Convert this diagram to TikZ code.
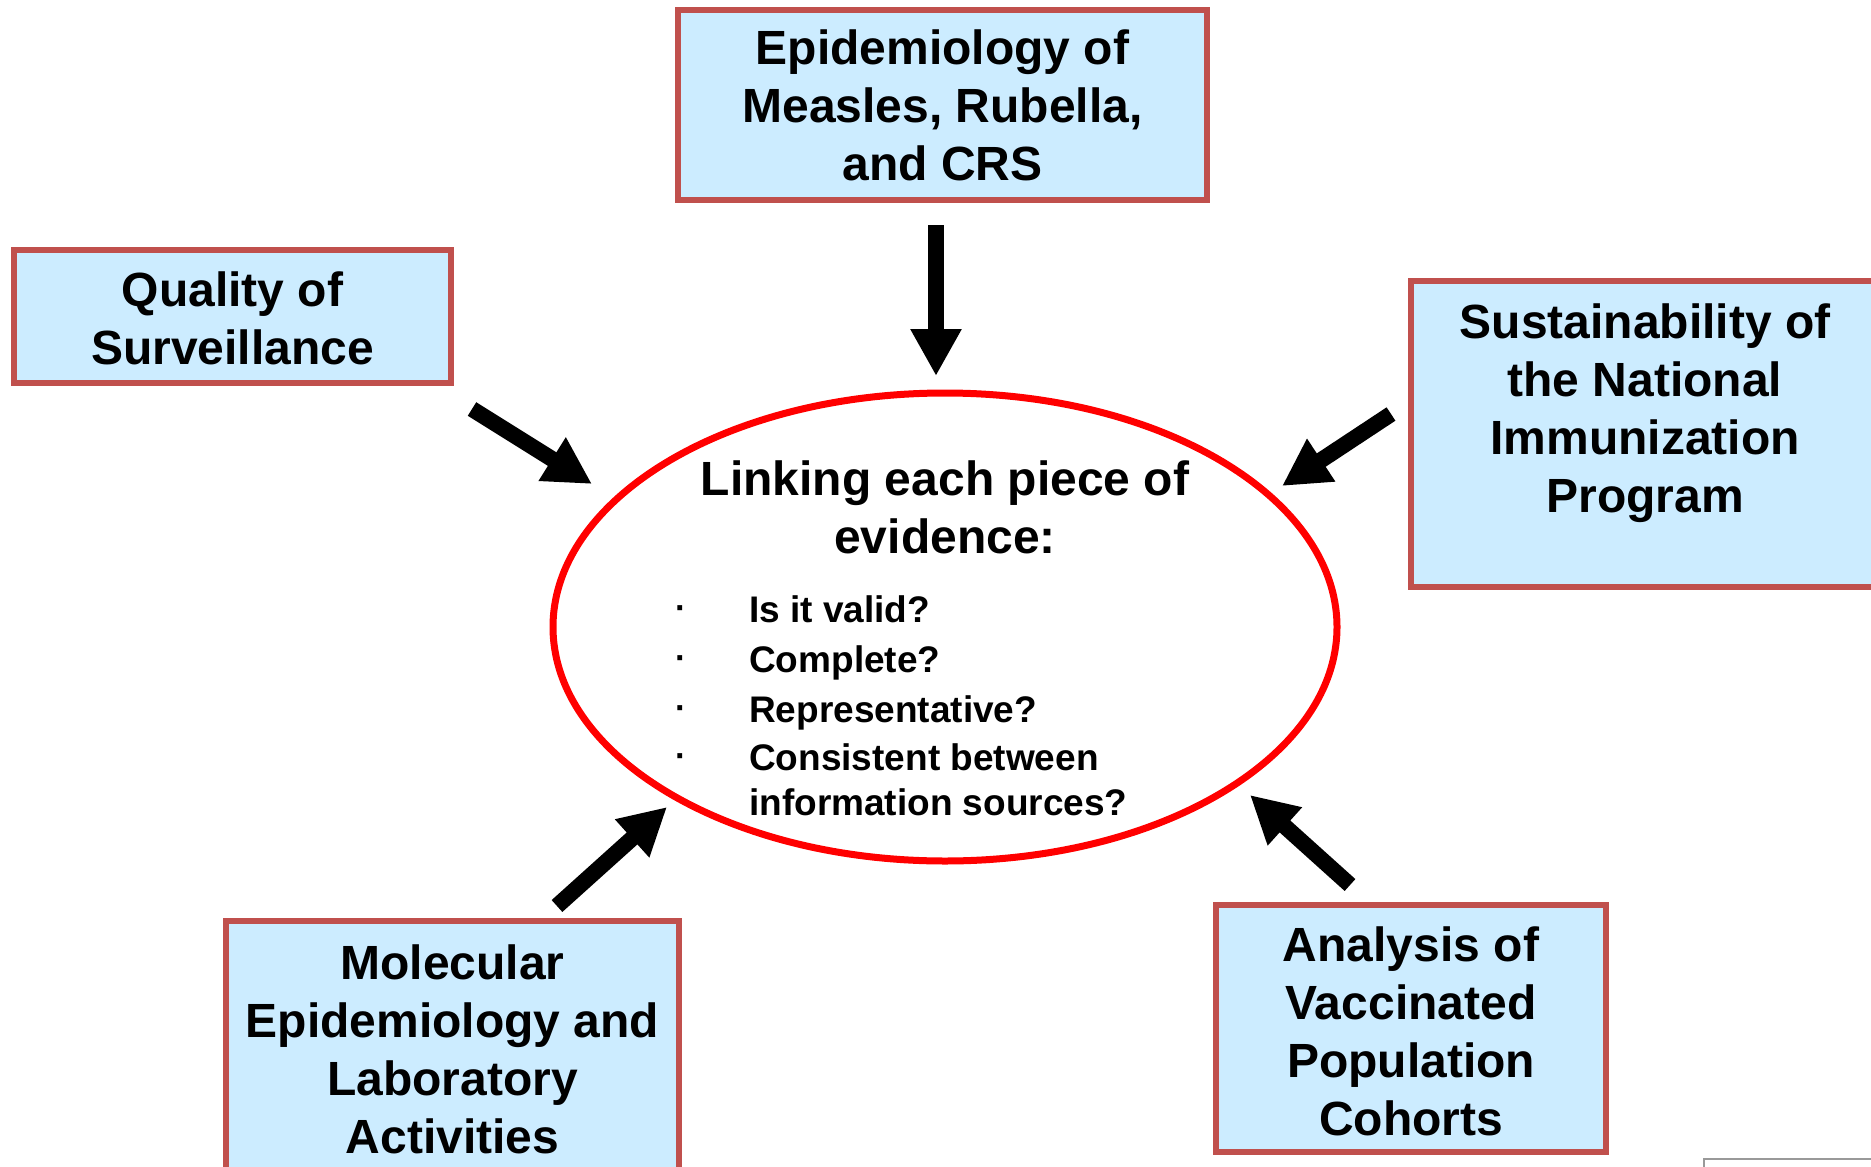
\documentclass[tikz,border=0pt]{standalone}
\usepackage{fontspec}
\setmainfont{Liberation Sans}
\usetikzlibrary{arrows.meta,shapes.geometric}
\definecolor{boxfill}{HTML}{CCECFF}
\definecolor{boxedge}{HTML}{C0504D}
\definecolor{ringred}{HTML}{FF0000}
\newcommand{\mlines}[1]{\begin{tabular}[t]{@{}c@{}}#1\end{tabular}}
\newcommand{\bdot}{\hspace*{2pt}{\fontsize{34}{34}\selectfont\bfseries\raisebox{3pt}{\textperiodcentered}}}
\begin{document}
\begin{tikzpicture}[x=1pt,y=-1pt,
  panel/.style={draw=boxedge, fill=boxfill, line width=6pt, rectangle, inner sep=0pt},
  paneltext/.style={anchor=base, inner sep=0pt, font=\bfseries\fontsize{48}{58}\selectfont},
  blockarrow/.style={line width=16pt, -{Triangle[width=48pt,length=47pt]}},
  ring/.style={draw=ringred, line width=7pt, ellipse, inner sep=0pt, minimum width=784pt, minimum height=468pt}]
\useasboundingbox[fill=white] (0,0) rectangle (1871,1167);

% boxes
\node[panel, minimum width=529pt, minimum height=190pt] (epi) at (942.5,105) {};
\node[paneltext] (epiT) at (942.5,64) {\mlines{Epidemiology of\\Measles, Rubella,\\and CRS}};

\node[panel, minimum width=437pt, minimum height=133pt] (qual) at (232.5,316.5) {};
\node[paneltext] (qualT) at (232.5,306) {\mlines{Quality of\\Surveillance}};

\node[panel, minimum width=468pt, minimum height=306pt] (sust) at (1645,434) {};
\node[paneltext] (sustT) at (1645,338) {\mlines{Sustainability of\\the National\\Immunization\\Program}};

\node[panel, minimum width=453pt, minimum height=289pt] (mol) at (452.5,1065.5) {};
\node[paneltext] (molT) at (452.5,979) {\mlines{Molecular\\Epidemiology and\\Laboratory\\Activities}};

\node[panel, minimum width=390pt, minimum height=247pt] (vacc) at (1411,1028.5) {};
\node[paneltext] (vaccT) at (1411,961) {\mlines{Analysis of\\Vaccinated\\Population\\Cohorts}};

% central ellipse
\node[ring] (hub) at (945,627) {};
\node[paneltext] (hubT) at (945,495) {\mlines{Linking each piece of\\evidence:}};
\node[anchor=base west, inner sep=0pt, font=\bfseries\fontsize{37}{45}\selectfont] (checks) at (673,622)
  {\begin{tabular}[t]{@{}p{76pt}@{}l@{}}
   \bdot & Is it valid?\\[5pt]
   \bdot & Complete?\\[5pt]
   \bdot & Representative?\\[3pt]
   \bdot & Consistent between\\
         & information sources?
   \end{tabular}};

% block arrows
\coordinate (a1s) at (936,225);  \coordinate (a1e) at (936,376);
\coordinate (a2s) at (472,409);  \coordinate (a2e) at (592,484);
\coordinate (a3s) at (1391,414); \coordinate (a3e) at (1282,486);
\coordinate (a4s) at (557,906);  \coordinate (a4e) at (667,807);
\coordinate (a5s) at (1350,885); \coordinate (a5e) at (1250,795);
\draw[blockarrow] (a1s) -- (a1e);
\draw[blockarrow] (a2s) -- (a2e);
\draw[blockarrow] (a3s) -- (a3e);
\draw[blockarrow] (a4s) -- (a4e);
\draw[blockarrow] (a5s) -- (a5e);

% stray corner line
\draw[gray!80, line width=1.5pt] (1704,1167) -- (1704,1159) -- (1871,1159);
\end{tikzpicture}
\end{document}
